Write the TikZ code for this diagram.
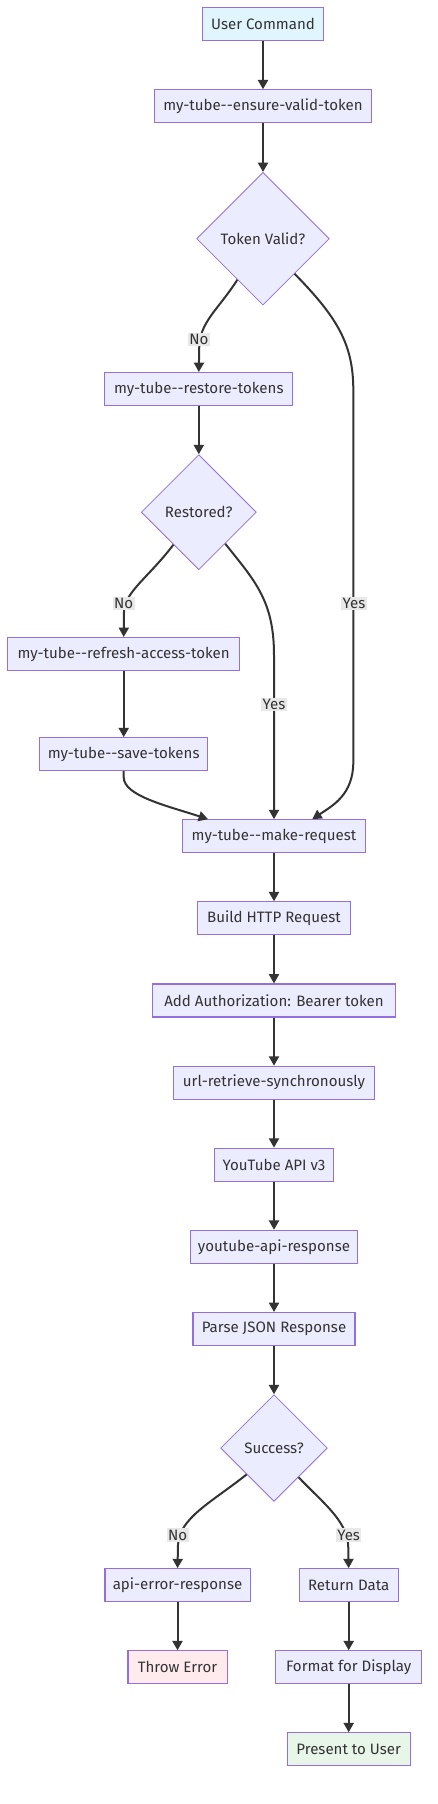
\documentclass[tikz,border=0pt]{standalone}
\usepackage{fontspec}
\setmainfont{Fira Sans}
\usetikzlibrary{shapes.geometric,arrows.meta,calc}
\definecolor{nodefill}{HTML}{ECECFF}
\definecolor{nodeline}{HTML}{9370DB}
\definecolor{edgecol}{HTML}{333333}
\definecolor{startfill}{HTML}{E1F5FE}
\definecolor{errfill}{HTML}{FFEBEE}
\definecolor{okfill}{HTML}{E8F5E9}
\definecolor{lblfill}{HTML}{E8E8E8}
\definecolor{txtcol}{HTML}{333333}
\begin{document}
\begin{tikzpicture}[x=0.75pt,y=-0.75pt,
 box/.style={draw=nodeline, fill=nodefill, line width=0.8pt, minimum height=24.75pt, inner sep=0pt, text=txtcol, font=\fontsize{11.3}{13}\selectfont},
 dia/.style={diamond, aspect=1, draw=nodeline, fill=nodefill, line width=0.6pt, inner sep=0pt, text=txtcol, font=\fontsize{11.3}{13}\selectfont},
 arr/.style={draw=edgecol, line width=1.5pt, -{Triangle[length=7pt,width=7.5pt]}},
 lbl/.style={fill=lblfill, inner sep=1pt, text=txtcol, font=\fontsize{11.3}{13}\selectfont}
]
\useasboundingbox[fill=white] (0,0) rectangle (437,1804);
% nodes
\node[box, fill=startfill, minimum width=90.45pt] (uc) at (263,24.2) {User Command};
\node[box, minimum width=163pt] (ev) at (263,106.3) {my-tube-{}-ensure-valid-token};
\node[dia, minimum width=99.5pt, minimum height=99.5pt] (tv) at (263,238.7) {Token Valid?};
\node[box, minimum width=140.8pt] (rt) at (198.8,389) {my-tube-{}-restore-tokens};
\node[dia, minimum width=86.3pt, minimum height=86.3pt] (rs) at (198.8,512.2) {Restored?};
\node[box, minimum width=174pt] (rf) at (123.7,654) {my-tube-{}-refresh-access-token};
\node[box, minimum width=126.3pt] (st) at (123.7,754.2) {my-tube-{}-save-tokens};
\node[box, minimum width=136.7pt] (mr) at (274,836.2) {my-tube-{}-make-request};
\node[box, minimum width=114.5pt] (bh) at (274,918.3) {Build HTTP Request};
\node[box, minimum width=182pt] (aa) at (274,1000.5) {Add Authorization: Bearer token};
\node[box, minimum width=150.5pt] (ur) at (274,1082.7) {url-retrieve-synchronously};
\node[box, minimum width=89.3pt] (yt) at (274,1164.7) {YouTube API v3};
\node[box, minimum width=125.3pt] (yr) at (274,1246.8) {youtube-api-response};
\node[box, minimum width=121.5pt] (pj) at (274,1329) {Parse JSON Response};
\node[dia, minimum width=80pt, minimum height=80pt] (sc) at (274,1448) {Success?};
\node[box, minimum width=108.8pt] (ae) at (177.5,1585.2) {api-error-response};
\node[box, minimum width=74pt] (rd) at (348.7,1585.2) {Return Data};
\node[box, fill=errfill, minimum width=74.3pt] (te) at (177.5,1667.3) {Throw Error};
\node[box, minimum width=109.2pt] (fd) at (348.7,1667.3) {Format for Display};
\node[box, fill=okfill, minimum width=92pt] (pu) at (348.7,1749.3) {Present to User};
% straight edges
\draw[arr] (uc) -- (ev);
\draw[arr] (ev) -- (tv);
\draw[arr] (rt) -- (rs);
\draw[arr] (rf) -- (st);
\draw[arr] (mr) -- (bh);
\draw[arr] (bh) -- (aa);
\draw[arr] (aa) -- (ur);
\draw[arr] (ur) -- (yt);
\draw[arr] (yt) -- (yr);
\draw[arr] (yr) -- (pj);
\draw[arr] (pj) -- (sc);
\draw[arr] (ae) -- (te);
\draw[arr] (rd) -- (fd);
\draw[arr] (fd) -- (pu);
% curved edges
\draw[arr] (tv.238) .. controls (218,310) and (199.5,322) .. (199.2,348) -- (rt.north);
\draw[arr] (tv.-48) .. controls (338,318) and (353.3,345) .. (353.3,390) -- (353.3,762) .. controls (353.3,795) and (332,806) .. ($(mr.north)+(38.3,0)$);
\draw[arr] (rs.232) .. controls (148,578) and (124.5,592) .. (124,612) -- (rf.north);
\draw[arr] (rs.-50) .. controls (254,580) and (274,600) .. (274,655) -- (mr.north);
\draw[arr] (st.south) -- ++(0,6) .. controls (123.7,796) and (168,806) .. ($(mr.north)+(-66,0)$);
\draw[arr] (sc.224) .. controls (212,1502) and (179,1518) .. (178,1545) -- (ae.north);
\draw[arr] (sc.-50) .. controls (322,1502) and (346.5,1520) .. (348.2,1545) -- (rd.north);
% labels
\node[lbl] (l1) at (199,339.7) {No};
\node[lbl] (l2) at (123.7,603.7) {No};
\node[lbl] (l3) at (354,603.7) {Yes};
\node[lbl] (l4) at (274,704.3) {Yes};
\node[lbl] (l5) at (177.7,1535) {No};
\node[lbl] (l6) at (348.7,1535) {Yes};
\end{tikzpicture}
\end{document}
